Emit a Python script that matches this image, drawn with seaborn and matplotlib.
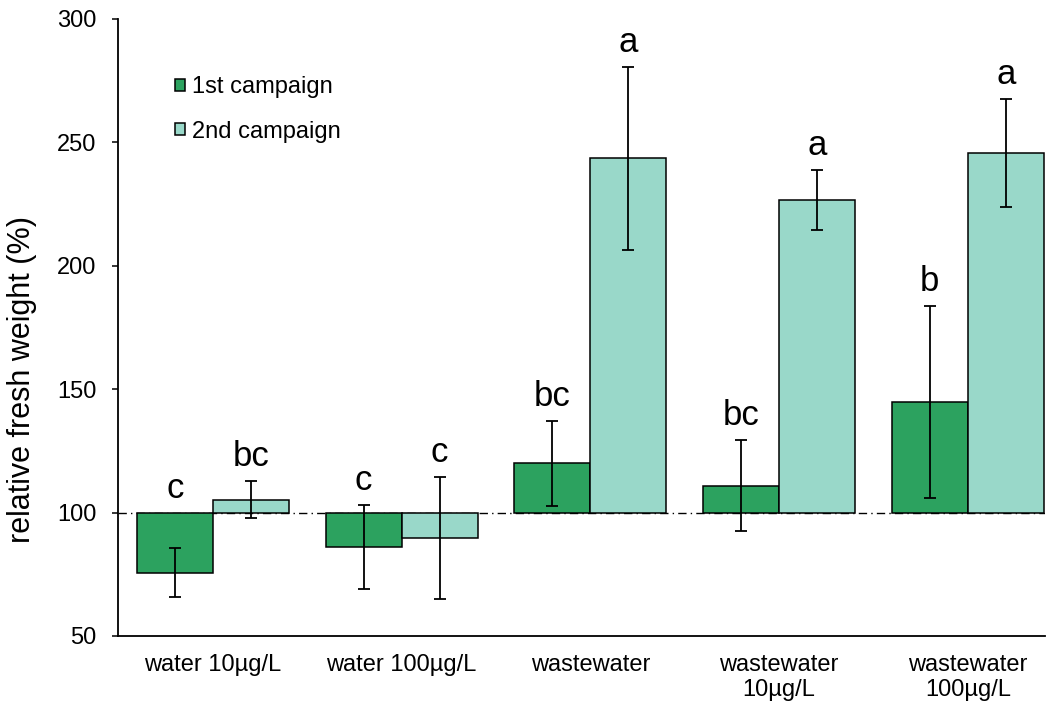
import numpy as np
import pandas as pd
import matplotlib
matplotlib.use("Agg")
import matplotlib.pyplot as plt
from matplotlib.patches import Patch
from matplotlib.container import BarContainer
import seaborn as sns

# datos (peso fresco relativo, %)
categories = ["water 10µg/L", "water 100µg/L", "wastewater",
              "wastewater\n10µg/L", "wastewater\n100µg/L"]
campaigns = ["1st campaign", "2nd campaign"]
camp1 = [75.6, 86.2, 120.1, 110.8, 144.8]
camp1_lo = [65.8, 69.0, 102.5, 92.5, 105.9]
camp1_hi = [85.5, 103.0, 137.1, 129.4, 183.7]
camp2 = [105.1, 89.8, 243.7, 226.7, 245.7]
camp2_lo = [97.7, 64.9, 206.4, 214.5, 223.8]
camp2_hi = [112.7, 114.6, 280.5, 238.8, 267.6]
letters1 = ["c", "c", "bc", "bc", "b"]
letters2 = ["bc", "c", "a", "a", "a"]
baseline = 100
colors = ["#2ca25f", "#99d8c9"]

df = pd.DataFrame({
    "category": categories * 2,
    "campaign": [campaigns[0]] * 5 + [campaigns[1]] * 5,
    "value": camp1 + camp2,
})
df["delta"] = df["value"] - baseline

sns.set_style("white")
plt.rcParams["font.family"] = ["Liberation Sans", "DejaVu Sans"]
for key in ["text.color", "axes.labelcolor", "xtick.color", "ytick.color"]:
    plt.rcParams[key] = "black"

fig = plt.figure(figsize=(10.53, 7.08), dpi=100)
ax = fig.add_axes([0.112, 0.1017, 0.8806, 0.8715])

ax.axhline(baseline, color="black", lw=1.0, ls=(0, (6, 3, 1, 3)), zorder=0)

sns.barplot(data=df, x="category", y="delta", hue="campaign",
            order=categories, hue_order=campaigns, palette=colors,
            width=0.805, saturation=1, errorbar=None, legend=False,
            edgecolor="black", linewidth=1.1, bottom=baseline, ax=ax)

bars = [c for c in ax.containers if isinstance(c, BarContainer)]
los = [camp1_lo, camp2_lo]
his = [camp1_hi, camp2_hi]
vals = [camp1, camp2]
lets = [letters1, letters2]
for k, cont in enumerate(bars):
    xs = [p.get_x() + p.get_width() / 2 for p in cont]
    v = np.array(vals[k])
    lo = np.array(los[k])
    hi = np.array(his[k])
    ax.errorbar(xs, v, yerr=[v - lo, hi - v], fmt="none", ecolor="black",
                elinewidth=1.3, capsize=4, capthick=1.3, zorder=5)
    for x, h, t in zip(xs, hi, lets[k]):
        ax.text(x, max(h, baseline) + 6, t, ha="center", va="baseline",
                fontsize=25)

ax.set_ylim(50, 300)
ax.set_yticks([50, 100, 150, 200, 250, 300])
ax.set_xlim(-0.503, 4.41)
ax.set_xlabel("")
ax.set_ylabel("relative fresh weight (%)", fontsize=22)
ax.yaxis.set_label_coords(-0.087, 0.415)
ax.tick_params(axis="y", labelsize=17, length=4.5, width=1.1, direction="out",
               left=True, pad=11)
ax.tick_params(axis="x", labelsize=17, length=0, pad=13)

sns.despine(ax=ax)
for s in ["left", "bottom"]:
    ax.spines[s].set_linewidth(1.3)
    ax.spines[s].set_color("black")

handles = [Patch(facecolor=c, edgecolor="black", linewidth=1.1) for c in colors]
ax.legend(handles, campaigns, frameon=False, loc="upper left",
          bbox_to_anchor=(0.0615, 0.907),
          fontsize=17, handlelength=0.42, handleheight=0.42,
          handletextpad=0.3, labelspacing=0.95, borderpad=0, borderaxespad=0)

plt.savefig("out.png", dpi=100)
plt.close()
